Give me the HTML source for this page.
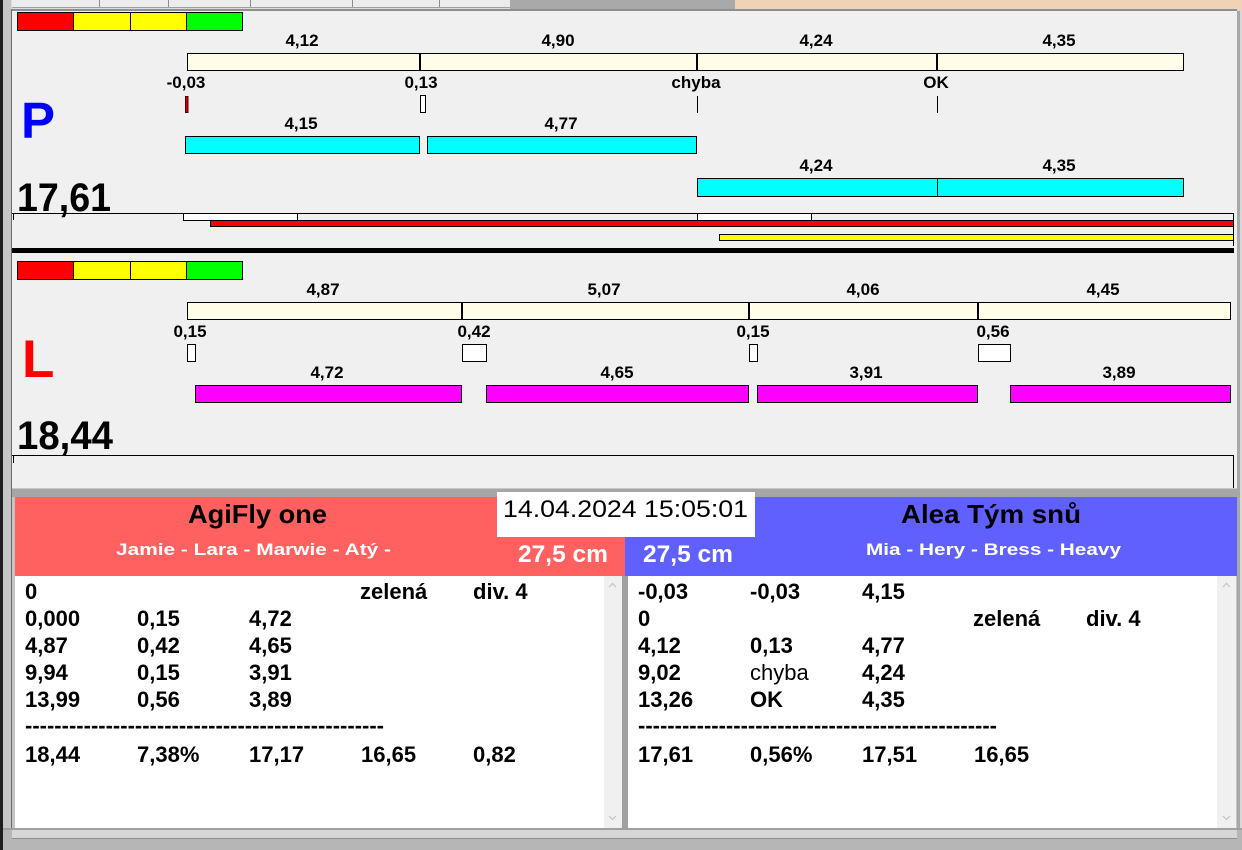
<!DOCTYPE html>
<html>
<head>
<meta charset="utf-8">
<style>
  html,body{margin:0;padding:0;background:#b8b8b8;}
  body{width:1242px;height:850px;overflow:hidden;position:relative;}
  svg{position:absolute;left:0;top:0;}
  .lb{font-family:"Liberation Sans",Arial,sans-serif;font-weight:bold;font-size:17px;fill:#000;}
  .ls{font-family:"Liberation Sans",Arial,sans-serif;font-weight:bold;font-size:22px;fill:#000;}
  .ln{font-family:"Liberation Sans",Arial,sans-serif;font-weight:normal;font-size:22px;fill:#000;}
</style>
</head>
<body>
<svg width="1242" height="850" viewBox="0 0 1242 850" xmlns="http://www.w3.org/2000/svg" shape-rendering="crispEdges">
  <!-- top strip -->
  <rect x="0" y="0" width="1242" height="11" fill="#dcdcdc"/>
  <rect x="12" y="0" width="498" height="8" fill="#ececec"/>
  <g stroke="#8c8c8c" stroke-width="1">
    <line x1="99.5" y1="0" x2="99.5" y2="8"/>
    <line x1="168.5" y1="0" x2="168.5" y2="8"/>
    <line x1="250.5" y1="0" x2="250.5" y2="8"/>
    <line x1="352.5" y1="0" x2="352.5" y2="8"/>
    <line x1="439.5" y1="0" x2="439.5" y2="8"/>
  </g>
  <line x1="12" y1="7.5" x2="510" y2="7.5" stroke="#a0a0a0"/>
  <rect x="510" y="0" width="225" height="9" fill="#a9a9a9"/>
  <rect x="735" y="0" width="507" height="11" fill="#f0d3b6"/>

  <!-- left edge -->
  <rect x="0" y="0" width="3" height="850" fill="#1e1e1e"/>
  <rect x="3" y="0" width="8" height="850" fill="#c6c6c6"/>
  <rect x="11" y="9" width="1" height="841" fill="#6a6a6a"/>

  <!-- main panel -->
  <rect x="12" y="10" width="1225" height="478" fill="#f0f0f0"/>
  <rect x="12" y="9" width="1225" height="2" fill="#8e8e8e"/>
  <!-- right edge -->
  <rect x="1237" y="11" width="5" height="839" fill="#a8a8a8"/>
  <rect x="1240" y="11" width="2" height="839" fill="#d8d8d8"/>

  <!-- ===== P section ===== -->
  <g stroke="#000" stroke-width="1">
    <rect x="17.5" y="12.5" width="56" height="18" fill="#ff0000"/>
    <rect x="73.5" y="12.5" width="57" height="18" fill="#ffff00"/>
    <rect x="130.5" y="12.5" width="56" height="18" fill="#ffff00"/>
    <rect x="186.5" y="12.5" width="56" height="18" fill="#00ff00"/>

    <rect x="187.5" y="53.5" width="996" height="17" fill="#fffde8"/>
  </g>
  <g stroke="#000" stroke-width="2">
    <line x1="420" y1="53" x2="420" y2="71"/>
    <line x1="697" y1="53" x2="697" y2="71"/>
    <line x1="937" y1="53" x2="937" y2="71"/>
  </g>
  <!-- markers -->
  <rect x="185.5" y="96.5" width="2.5" height="16" fill="#d00000" stroke="#500000" stroke-width="1"/>
  <rect x="420.5" y="95.5" width="5" height="17" fill="#ffffff" stroke="#000" stroke-width="1"/>
  <line x1="697.5" y1="96" x2="697.5" y2="113" stroke="#000" stroke-width="1"/>
  <line x1="937.5" y1="96" x2="937.5" y2="113" stroke="#000" stroke-width="1"/>
  <!-- cyan bars -->
  <g stroke="#000" stroke-width="1" fill="#00ffff">
    <rect x="185.5" y="136.5" width="234" height="17"/>
    <rect x="427.5" y="136.5" width="269" height="17"/>
    <rect x="697.5" y="178.5" width="240" height="18"/>
    <rect x="937.5" y="178.5" width="246" height="18"/>
  </g>
  <!-- bottom box of P -->
  <line x1="12" y1="213.5" x2="1234" y2="213.5" stroke="#000" stroke-width="1"/>
  <line x1="1233.5" y1="213" x2="1233.5" y2="246" stroke="#000" stroke-width="1"/>
  <line x1="13.5" y1="213" x2="13.5" y2="220" stroke="#000" stroke-width="1"/>
  <g stroke="#000" stroke-width="1">
    <rect x="183.5" y="213.5" width="114" height="7" fill="#ffffff"/>
    <rect x="697.5" y="213.5" width="114" height="7" fill="#ffffff"/>
    <rect x="210.5" y="220.5" width="1023" height="6" fill="#ff0000"/>
    <rect x="719.5" y="234.5" width="514" height="6" fill="#ffff00"/>
  </g>
  <rect x="12" y="248" width="1222" height="5" fill="#000"/>

  <!-- P texts -->
  <g class="lb" text-anchor="middle">
    <text x="302" y="46">4,12</text>
    <text x="558" y="46">4,90</text>
    <text x="816" y="46">4,24</text>
    <text x="1059" y="46">4,35</text>
    <text x="186" y="88">-0,03</text>
    <text x="421" y="88">0,13</text>
    <text x="696" y="88">chyba</text>
    <text x="936" y="88">OK</text>
    <text x="301" y="129">4,15</text>
    <text x="561" y="129">4,77</text>
    <text x="816" y="171">4,24</text>
    <text x="1059" y="171">4,35</text>
  </g>
  <text x="21" y="138" font-family="'Liberation Sans',Arial,sans-serif" font-weight="bold" font-size="51" fill="#0000ff">P</text>
  <text x="17" y="211" font-family="'Liberation Sans',Arial,sans-serif" font-weight="bold" font-size="40" fill="#000" textLength="94" lengthAdjust="spacingAndGlyphs">17,61</text>

  <!-- ===== L section ===== -->
  <g stroke="#000" stroke-width="1">
    <rect x="17.5" y="261.5" width="56" height="18" fill="#ff0000"/>
    <rect x="73.5" y="261.5" width="57" height="18" fill="#ffff00"/>
    <rect x="130.5" y="261.5" width="56" height="18" fill="#ffff00"/>
    <rect x="186.5" y="261.5" width="56" height="18" fill="#00ff00"/>

    <rect x="187.5" y="302.5" width="1043" height="17" fill="#fffde8"/>
  </g>
  <g stroke="#000" stroke-width="2">
    <line x1="462" y1="302" x2="462" y2="320"/>
    <line x1="749" y1="302" x2="749" y2="320"/>
    <line x1="978" y1="302" x2="978" y2="320"/>
  </g>
  <g stroke="#000" stroke-width="1" fill="#ffffff">
    <rect x="187.5" y="344.5" width="8" height="17"/>
    <rect x="462.5" y="344.5" width="24" height="17"/>
    <rect x="749.5" y="344.5" width="8" height="17"/>
    <rect x="978.5" y="344.5" width="32" height="17"/>
  </g>
  <g stroke="#000" stroke-width="1" fill="#ff00ff">
    <rect x="195.5" y="385.5" width="266" height="17"/>
    <rect x="486.5" y="385.5" width="262" height="17"/>
    <rect x="757.5" y="385.5" width="220" height="17"/>
    <rect x="1010.5" y="385.5" width="220" height="17"/>
  </g>
  <line x1="12" y1="455.5" x2="1234" y2="455.5" stroke="#000" stroke-width="1"/>
  <line x1="1233.5" y1="455" x2="1233.5" y2="488" stroke="#000" stroke-width="1"/>
  <line x1="13.5" y1="455" x2="13.5" y2="463" stroke="#000" stroke-width="1"/>

  <g class="lb" text-anchor="middle">
    <text x="323" y="295">4,87</text>
    <text x="604" y="295">5,07</text>
    <text x="863" y="295">4,06</text>
    <text x="1103" y="295">4,45</text>
    <text x="190" y="337">0,15</text>
    <text x="474" y="337">0,42</text>
    <text x="753" y="337">0,15</text>
    <text x="993" y="337">0,56</text>
    <text x="327" y="378">4,72</text>
    <text x="617" y="378">4,65</text>
    <text x="866" y="378">3,91</text>
    <text x="1119" y="378">3,89</text>
  </g>
  <text x="22" y="377" font-family="'Liberation Sans',Arial,sans-serif" font-weight="bold" font-size="53" fill="#ff0000">L</text>
  <text x="17" y="449" font-family="'Liberation Sans',Arial,sans-serif" font-weight="bold" font-size="40" fill="#000" textLength="96" lengthAdjust="spacingAndGlyphs">18,44</text>

  <!-- ===== bottom section ===== -->
  <rect x="12" y="488" width="1225" height="10" fill="#a6a6a6"/>
  <rect x="12" y="488" width="1225" height="1" fill="#c8c8c8"/>
  <rect x="12" y="497" width="1225" height="331" fill="#c4c4c4"/>
  <rect x="15" y="497" width="610" height="79" fill="#ff6060"/>
  <rect x="625" y="497" width="612" height="79" fill="#6060ff"/>
  <rect x="497" y="492" width="258" height="45" fill="#ffffff"/>

  <!-- lists -->
  <rect x="15" y="576" width="589" height="252" fill="#ffffff"/>
  <rect x="604" y="576" width="18" height="252" fill="#f0f0f0"/>
  <rect x="622" y="576" width="6" height="252" fill="#a0a0a0"/>
  <rect x="628" y="576" width="589" height="252" fill="#ffffff"/>
  <rect x="1217" y="576" width="19" height="252" fill="#f0f0f0"/>
  <g stroke="#c4c4c4" stroke-width="1.2" fill="none" shape-rendering="geometricPrecision">
    <polyline points="609,587 612.5,583.5 616,587"/>
    <polyline points="609,816 612.5,819.5 616,816"/>
    <polyline points="1223,587 1226.5,583.5 1230,587"/>
    <polyline points="1223,816 1226.5,819.5 1230,816"/>
  </g>

  <!-- bottom strip -->
  <rect x="0" y="828" width="1242" height="22" fill="#b6b6b6"/>
  <rect x="3" y="828" width="1239" height="2" fill="#a0a0a0"/>
  <rect x="12" y="830" width="1225" height="8" fill="#d6d6d6"/>
  <rect x="12" y="838" width="1225" height="1" fill="#8e8e8e"/>
  <rect x="0" y="828" width="3" height="22" fill="#1e1e1e"/>

  <!-- header texts -->
  <g font-family="'Liberation Sans',Arial,sans-serif" font-weight="bold">
    <text x="188" y="523" font-size="26" fill="#000" textLength="139" lengthAdjust="spacingAndGlyphs">AgiFly one</text>
    <text x="116" y="555" font-size="17" fill="#ffffff" textLength="275" lengthAdjust="spacingAndGlyphs">Jamie - Lara - Marwie - Atý -</text>
    <text x="518" y="562" font-size="24" fill="#ffffff" textLength="90" lengthAdjust="spacingAndGlyphs">27,5 cm</text>
    <text x="643" y="562" font-size="24" fill="#ffffff" textLength="90" lengthAdjust="spacingAndGlyphs">27,5 cm</text>
    <text x="901" y="523" font-size="26" fill="#000" textLength="180" lengthAdjust="spacingAndGlyphs">Alea Tým snů</text>
    <text x="866" y="555" font-size="17" fill="#ffffff" textLength="255" lengthAdjust="spacingAndGlyphs">Mia - Hery - Bress - Heavy</text>
  </g>
  <text x="503" y="517" font-family="'Liberation Sans',Arial,sans-serif" font-size="24" fill="#000" textLength="245" lengthAdjust="spacingAndGlyphs">14.04.2024 15:05:01</text>

  <!-- left list -->
  <g class="ls">
    <text x="25" y="599">0</text>
    <text x="360" y="599">zelená</text>
    <text x="473" y="599">div. 4</text>

    <text x="25" y="626">0,000</text>
    <text x="137" y="626">0,15</text>
    <text x="249" y="626">4,72</text>

    <text x="25" y="653">4,87</text>
    <text x="137" y="653">0,42</text>
    <text x="249" y="653">4,65</text>

    <text x="25" y="680">9,94</text>
    <text x="137" y="680">0,15</text>
    <text x="249" y="680">3,91</text>

    <text x="25" y="707">13,99</text>
    <text x="137" y="707">0,56</text>
    <text x="249" y="707">3,89</text>

    <text x="25" y="733" textLength="359" lengthAdjust="spacingAndGlyphs">-------------------------------------------------</text>

    <text x="25" y="762">18,44</text>
    <text x="137" y="762">7,38%</text>
    <text x="249" y="762">17,17</text>
    <text x="361" y="762">16,65</text>
    <text x="473" y="762">0,82</text>
  </g>

  <!-- right list -->
  <g class="ls">
    <text x="638" y="599">-0,03</text>
    <text x="750" y="599">-0,03</text>
    <text x="862" y="599">4,15</text>

    <text x="638" y="626">0</text>
    <text x="973" y="626">zelená</text>
    <text x="1086" y="626">div. 4</text>

    <text x="638" y="653">4,12</text>
    <text x="750" y="653">0,13</text>
    <text x="862" y="653">4,77</text>

    <text x="638" y="680">9,02</text>
    <text x="862" y="680">4,24</text>

    <text x="638" y="707">13,26</text>
    <text x="750" y="707">OK</text>
    <text x="862" y="707">4,35</text>

    <text x="638" y="733" textLength="359" lengthAdjust="spacingAndGlyphs">-------------------------------------------------</text>

    <text x="638" y="762">17,61</text>
    <text x="750" y="762">0,56%</text>
    <text x="862" y="762">17,51</text>
    <text x="974" y="762">16,65</text>
  </g>
  <text x="750" y="680" class="ln">chyba</text>
</svg>
</body>
</html>
